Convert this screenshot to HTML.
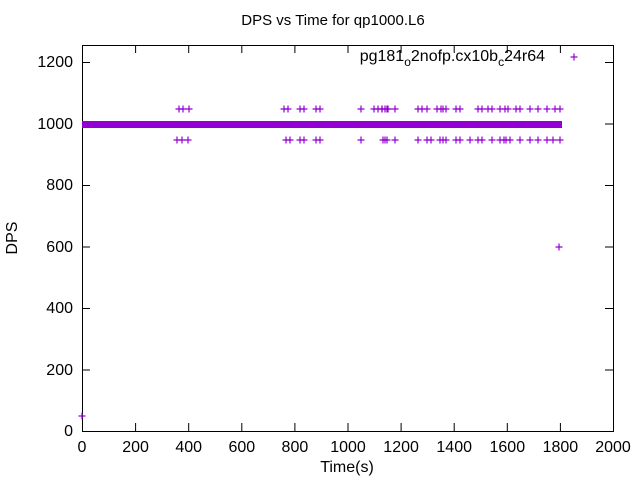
<!DOCTYPE html>
<html><head><style>body{margin:0;background:#fff}svg{display:block}text{font-family:"Liberation Sans",sans-serif;fill:#000}</style></head><body>
<svg width="640" height="480" xmlns="http://www.w3.org/2000/svg">
<defs><path id="p" d="M-3.5 0H3.5M0 -3.5V3.5" stroke="#9400d3" stroke-width="1.2" fill="none"/></defs>
<text x="333" y="25" text-anchor="middle" font-size="15">DPS vs Time for qp1000.L6</text>
<g stroke="#000" stroke-width="1">
<rect x="82.5" y="45.5" width="531" height="386" fill="none"/>
<path d="M82 370h8M82 308.5h8M82 247h8M82 185.5h8M82 124h8M82 62.5h8M613 370h-8M613 308.5h-8M613 247h-8M613 185.5h-8M613 124h-8M613 62.5h-8
M135.6 431v-8M188.7 431v-8M241.8 431v-8M294.9 431v-8M348 431v-8M401.1 431v-8M454.2 431v-8M507.3 431v-8M560.4 431v-8
M135.6 45v8M188.7 45v8M241.8 45v8M294.9 45v8M348 45v8M401.1 45v8M454.2 45v8M507.3 45v8M560.4 45v8"/>
</g>
<g font-size="16" text-anchor="end">
<text x="73" y="436">0</text><text x="73" y="375">200</text><text x="73" y="313">400</text><text x="73" y="252">600</text><text x="73" y="190">800</text><text x="73" y="129">1000</text><text x="73" y="67">1200</text>
</g>
<g font-size="16" text-anchor="middle">
<text x="82" y="452">0</text><text x="135.6" y="452">200</text><text x="188.7" y="452">400</text><text x="241.8" y="452">600</text><text x="294.9" y="452">800</text><text x="348" y="452">1000</text><text x="401.1" y="452">1200</text><text x="454.2" y="452">1400</text><text x="507.3" y="452">1600</text><text x="560.4" y="452">1800</text><text x="613" y="452">2000</text>
</g>
<text x="347" y="472" font-size="16" text-anchor="middle">Time(s)</text>
<text transform="translate(17,238) rotate(-90)" font-size="16" text-anchor="middle">DPS</text>
<text x="545" y="61" font-size="16" text-anchor="end">pg181<tspan font-size="12" dy="5">o</tspan><tspan dy="-5">2nofp.cx10b</tspan><tspan font-size="12" dy="5">c</tspan><tspan dy="-5">24r64</tspan></text>
<use href="#p" x="574" y="57"/>
<rect x="82" y="121" width="480" height="7" fill="#9400d3"/>
<use href="#p" x="82" y="416"/><use href="#p" x="559" y="247"/>
<g>
<use href="#p" x="374" y="109"/><use href="#p" x="378" y="109"/><use href="#p" x="382" y="109"/><use href="#p" x="387" y="109"/>
<use href="#p" x="284" y="109"/><use href="#p" x="288" y="109"/><use href="#p" x="300" y="109"/><use href="#p" x="304" y="109"/><use href="#p" x="316" y="109"/><use href="#p" x="320" y="109"/><use href="#p" x="361" y="109"/>
<use href="#p" x="382" y="109"/><use href="#p" x="385" y="109"/><use href="#p" x="388" y="109"/><use href="#p" x="395" y="109"/>
<use href="#p" x="418" y="109"/><use href="#p" x="422" y="109"/><use href="#p" x="427" y="109"/><use href="#p" x="437" y="109"/><use href="#p" x="441" y="109"/><use href="#p" x="443" y="109"/><use href="#p" x="446" y="109"/><use href="#p" x="456" y="109"/><use href="#p" x="460" y="109"/><use href="#p" x="478" y="109"/><use href="#p" x="482" y="109"/><use href="#p" x="488" y="109"/><use href="#p" x="492" y="109"/><use href="#p" x="500" y="109"/><use href="#p" x="505" y="109"/><use href="#p" x="508" y="109"/><use href="#p" x="516" y="109"/><use href="#p" x="520" y="109"/><use href="#p" x="530" y="109"/><use href="#p" x="538" y="109"/><use href="#p" x="547" y="109"/><use href="#p" x="555" y="109"/><use href="#p" x="560" y="109"/>
<use href="#p" x="179" y="109"/><use href="#p" x="183" y="109"/><use href="#p" x="189" y="109"/>
</g>
<g>
<use href="#p" x="177" y="140"/><use href="#p" x="182" y="140"/><use href="#p" x="188" y="140"/>
<use href="#p" x="286" y="140"/><use href="#p" x="290" y="140"/><use href="#p" x="300" y="140"/><use href="#p" x="304" y="140"/><use href="#p" x="316" y="140"/><use href="#p" x="320" y="140"/><use href="#p" x="361" y="140"/>
<use href="#p" x="383" y="140"/><use href="#p" x="385" y="140"/><use href="#p" x="387" y="140"/><use href="#p" x="395" y="140"/><use href="#p" x="418" y="140"/><use href="#p" x="427" y="140"/><use href="#p" x="431" y="140"/><use href="#p" x="440" y="140"/><use href="#p" x="443" y="140"/><use href="#p" x="446" y="140"/><use href="#p" x="456" y="140"/><use href="#p" x="460" y="140"/><use href="#p" x="470" y="140"/><use href="#p" x="478" y="140"/><use href="#p" x="482" y="140"/><use href="#p" x="492" y="140"/><use href="#p" x="500" y="140"/><use href="#p" x="504" y="140"/><use href="#p" x="506" y="140"/><use href="#p" x="510" y="140"/><use href="#p" x="520" y="140"/><use href="#p" x="530" y="140"/><use href="#p" x="538" y="140"/><use href="#p" x="547" y="140"/><use href="#p" x="553" y="140"/><use href="#p" x="560" y="140"/>
</g>
</svg>
</body></html>
